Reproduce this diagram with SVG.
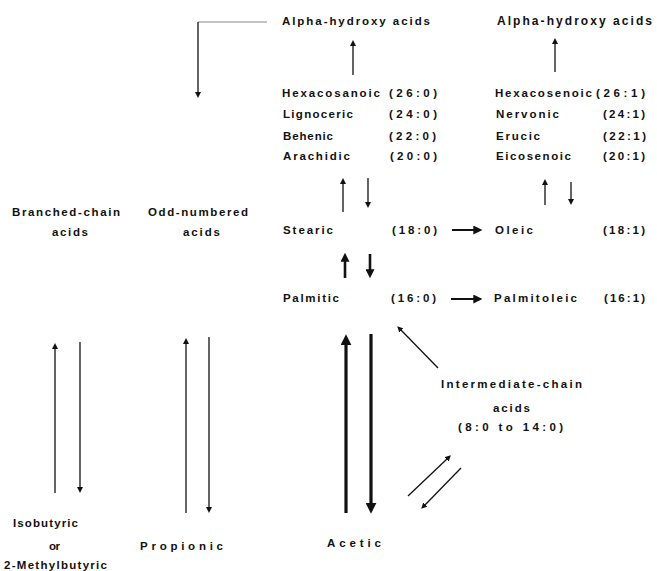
<svg xmlns="http://www.w3.org/2000/svg" width="657" height="571" viewBox="0 0 657 571">
<style>
text{font-family:"Liberation Sans",Arial,sans-serif;font-size:11.5px;font-weight:bold;fill:#111;}
.big{font-size:12px;}
.c{stroke:#111;fill:none;stroke-width:1.3;}
.m{stroke-width:2;}
.t{stroke-width:2.6;}
.x{stroke-width:3.2;}
</style>
<defs>
<marker id="s" viewBox="0 0 6 6" refX="2" refY="3" markerWidth="6" markerHeight="6" markerUnits="userSpaceOnUse" orient="auto"><path d="M0,0 L6,3 L0,6 z" fill="#111"/></marker>
<marker id="b" viewBox="0 0 10 10" refX="3" refY="5" markerWidth="9" markerHeight="9" markerUnits="userSpaceOnUse" orient="auto"><path d="M0,0 L10,5 L0,10 z" fill="#111"/></marker>
<marker id="h" viewBox="0 0 10 10" refX="3" refY="5" markerWidth="11" markerHeight="11" markerUnits="userSpaceOnUse" orient="auto"><path d="M0,0 L10,5 L0,10 z" fill="#111"/></marker>
</defs>
<g id="connectors">
<line x1="267" y1="22" x2="198" y2="22" stroke="#888" stroke-width="1"/>
<line class="c" x1="198" y1="22" x2="198" y2="94" marker-end="url(#s)"/>
<line class="c" x1="353" y1="75" x2="353" y2="44" marker-end="url(#s)"/>
<line class="c" x1="555" y1="72" x2="555" y2="42" marker-end="url(#s)"/>
<line class="c" x1="343" y1="212" x2="343" y2="182" marker-end="url(#s)"/>
<line class="c" x1="368" y1="178" x2="368" y2="204" marker-end="url(#s)"/>
<line class="c" x1="545" y1="205" x2="545" y2="183" marker-end="url(#s)"/>
<line class="c" x1="571" y1="182" x2="571" y2="201" marker-end="url(#s)"/>
<line class="c t" x1="345" y1="278" x2="345" y2="259" marker-end="url(#b)"/>
<line class="c t" x1="370" y1="254" x2="370" y2="272" marker-end="url(#b)"/>
<line class="c m" x1="452" y1="230" x2="476" y2="230" marker-end="url(#b)"/>
<line class="c m" x1="451" y1="299" x2="476" y2="299" marker-end="url(#b)"/>
<line class="c x" x1="346" y1="513" x2="346" y2="342" marker-end="url(#h)"/>
<line class="c x" x1="371" y1="334" x2="371" y2="506" marker-end="url(#h)"/>
<line class="c" x1="438" y1="368" x2="400" y2="329" marker-end="url(#s)"/>
<line class="c" x1="408" y1="496" x2="448" y2="458" marker-end="url(#s)"/>
<line class="c" x1="461" y1="468" x2="424" y2="506" marker-end="url(#s)"/>
<line class="c" x1="55" y1="493" x2="55" y2="347" marker-end="url(#s)"/>
<line class="c" x1="80" y1="342" x2="80" y2="489" marker-end="url(#s)"/>
<line class="c" x1="186" y1="513" x2="186" y2="342" marker-end="url(#s)"/>
<line class="c" x1="209" y1="337" x2="209" y2="509" marker-end="url(#s)"/>
</g>
<g id="alpha-sat"><text x="282" y="25" textLength="148" lengthAdjust="spacing">Alpha-hydroxy acids</text></g>
<g id="alpha-unsat"><text class="big" x="497" y="25" textLength="155" lengthAdjust="spacing">Alpha-hydroxy acids</text></g>
<g id="hexacosanoic"><text x="282" y="96.5" textLength="98" lengthAdjust="spacing">Hexacosanoic</text><text x="389" y="96.5" textLength="48" lengthAdjust="spacing">(26:0)</text></g>
<g id="lignoceric"><text x="283" y="118" textLength="70" lengthAdjust="spacing">Lignoceric</text><text x="389" y="118" textLength="48" lengthAdjust="spacing">(24:0)</text></g>
<g id="behenic"><text x="283" y="140" textLength="50" lengthAdjust="spacing">Behenic</text><text x="389" y="140" textLength="47" lengthAdjust="spacing">(22:0)</text></g>
<g id="arachidic"><text x="283" y="160" textLength="67" lengthAdjust="spacing">Arachidic</text><text x="390" y="160" textLength="47" lengthAdjust="spacing">(20:0)</text></g>
<g id="hexacosenoic"><text x="495" y="96.5" textLength="97" lengthAdjust="spacing">Hexacosenoic</text><text x="596" y="96.5" textLength="49" lengthAdjust="spacing">(26:1)</text></g>
<g id="nervonic"><text x="496" y="117.5" textLength="63" lengthAdjust="spacing">Nervonic</text><text x="603" y="117.5" textLength="42" lengthAdjust="spacing">(24:1)</text></g>
<g id="erucic"><text x="496" y="140" textLength="44" lengthAdjust="spacing">Erucic</text><text x="603" y="140" textLength="43" lengthAdjust="spacing">(22:1)</text></g>
<g id="eicosenoic"><text x="496" y="160" textLength="75" lengthAdjust="spacing">Eicosenoic</text><text x="603" y="160" textLength="42" lengthAdjust="spacing">(20:1)</text></g>
<g id="stearic"><text x="283" y="234" textLength="50" lengthAdjust="spacing">Stearic</text><text x="392" y="234" textLength="45" lengthAdjust="spacing">(18:0)</text></g>
<g id="oleic"><text x="495" y="233.5" textLength="38" lengthAdjust="spacing">Oleic</text><text x="603" y="233.5" textLength="42" lengthAdjust="spacing">(18:1)</text></g>
<g id="palmitic"><text x="283" y="302" textLength="56" lengthAdjust="spacing">Palmitic</text><text x="391" y="302" textLength="45" lengthAdjust="spacing">(16:0)</text></g>
<g id="palmitoleic"><text x="494" y="302" textLength="83" lengthAdjust="spacing">Palmitoleic</text><text x="604" y="302" textLength="41" lengthAdjust="spacing">(16:1)</text></g>
<g id="branched"><text x="12" y="216" textLength="108" lengthAdjust="spacing">Branched-chain</text><text x="52" y="236" textLength="36" lengthAdjust="spacing">acids</text></g>
<g id="odd"><text x="148" y="216" textLength="100" lengthAdjust="spacing">Odd-numbered</text><text x="183" y="236" textLength="37" lengthAdjust="spacing">acids</text></g>
<g id="intermediate"><text x="441" y="388" textLength="141" lengthAdjust="spacing">Intermediate-chain</text><text x="493" y="412" textLength="37" lengthAdjust="spacing">acids</text><text x="458" y="431" textLength="105" lengthAdjust="spacing">(8:0 to 14:0)</text></g>
<g id="isobutyric"><text x="13" y="527" textLength="65" lengthAdjust="spacing">Isobutyric</text><text x="49" y="550" textLength="11" lengthAdjust="spacing">or</text><text x="4" y="569" textLength="103" lengthAdjust="spacing">2-Methylbutyric</text></g>
<g id="propionic"><text x="140" y="550" textLength="83" lengthAdjust="spacing">Propionic</text></g>
<g id="acetic"><text x="327" y="547" textLength="54" lengthAdjust="spacing">Acetic</text></g>
</svg>
